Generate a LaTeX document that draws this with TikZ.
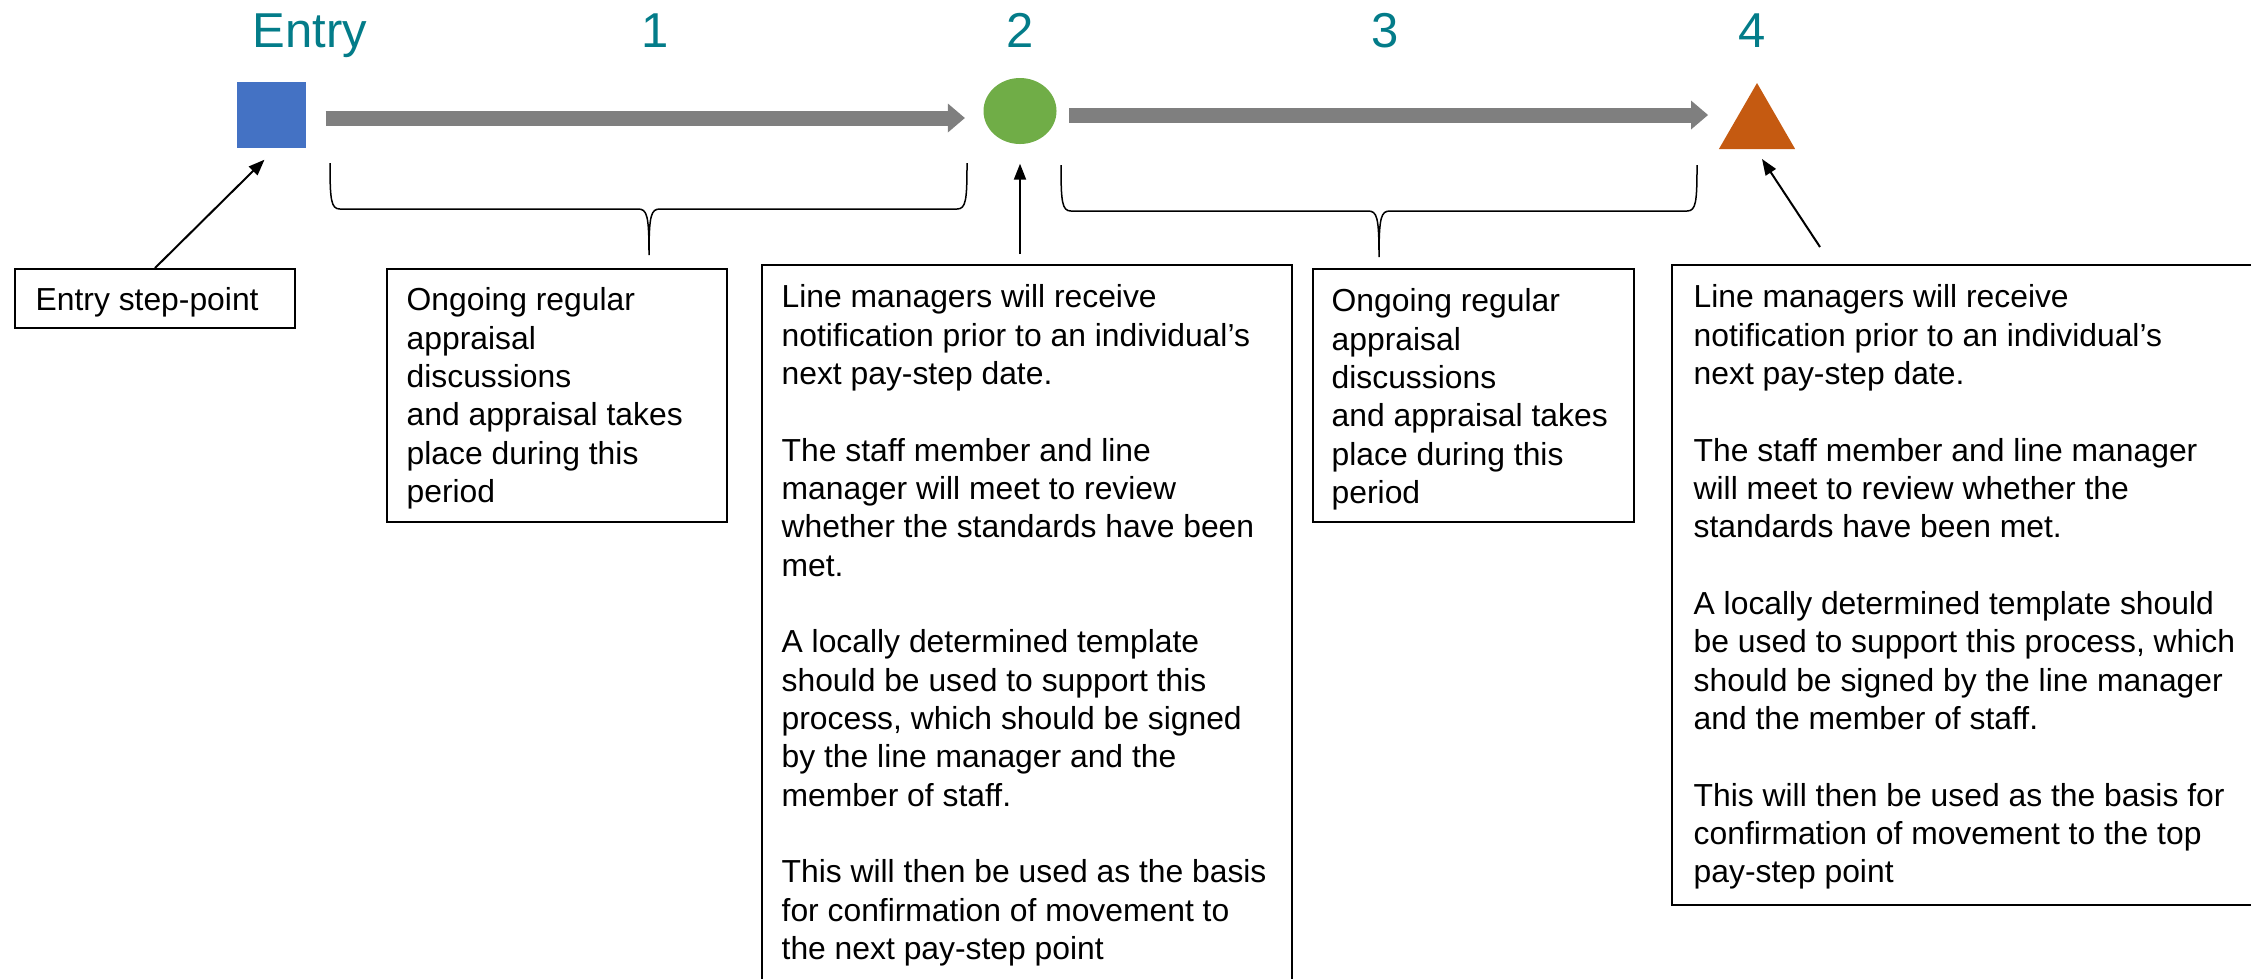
\documentclass[tikz,border=0pt]{standalone}
\usepackage{fontspec}
\setmainfont{Liberation Sans}
\usetikzlibrary{arrows.meta,shapes.geometric,calc}
\definecolor{headc}{HTML}{037C89}
\definecolor{bluec}{HTML}{4472C4}
\definecolor{greenc}{HTML}{70AD47}
\definecolor{orangec}{HTML}{C55A11}
\definecolor{grayc}{HTML}{7F7F7F}
\begin{document}
\begin{tikzpicture}[x=0.3pt,y=-0.3pt,
  head/.style={font=\fontsize{14.7pt}{17pt}\selectfont, text=headc, inner sep=0pt, anchor=base},
  box/.style={draw=black, line width=0.6pt, inner sep=0pt, anchor=north west},
  body/.style={font=\fontsize{9.55pt}{11.5pt}\selectfont, align=left, inner sep=0pt, anchor=north west},
  bigarrow/.style={draw=grayc, line width=4.5pt, -{Triangle[length=5.1pt,width=8.7pt,line width=0pt]}},
  ptr/.style={draw=black, line width=0.6pt, -{Triangle[length=4.8pt,width=3.6pt]}},
  bracestyle/.style={draw=black, line width=0.45pt}
]
\useasboundingbox (0,0) rectangle (2251,978);
\clip (0,0) rectangle (2251,978);

% headings
\node[head] (hE) at (310,47) {Entry};
\node[head] (h1) at (655,47) {1};
\node[head] (h2) at (1020,47) {2};
\node[head] (h3) at (1385,47) {3};
\node[head] (h4) at (1752,47) {4};

% markers
\node[rectangle, fill=bluec, inner sep=0pt, minimum width={69*0.3pt}, minimum height={66*0.3pt}] (sq) at (271.5,115) {};
\node[ellipse, fill=greenc, inner sep=0pt, minimum width={73*0.3pt}, minimum height={66*0.3pt}] (ell) at (1020,111) {};
\node[regular polygon, regular polygon sides=3, fill=orangec, inner sep=0pt, minimum size={88*0.3pt}] (tri) at (1757,127) {};

% big arrows
\draw[bigarrow] ($(sq.east)+(19,3)$) -- ($(sq.east -| ell.west)+(-18,3)$);
\draw[bigarrow] ($(ell.east)+(12,4)$) -- ($(ell.east -| tri.center)+(-49,4)$);

% boxes
\node[box, minimum width={280*0.3pt}, minimum height={59*0.3pt}] (eb) at (14,268) {};
\node[box, minimum width={340*0.3pt}, minimum height={253*0.3pt}] (b1) at (386,268) {};
\node[box, minimum width={530*0.3pt}, minimum height={780*0.3pt}] (b2) at (761,264) {};
\node[box, minimum width={321*0.3pt}, minimum height={253*0.3pt}] (b3) at (1312,268) {};
\node[box, minimum width={640*0.3pt}, minimum height={640*0.3pt}] (b4) at (1671,264) {};

% texts
\node[body] (te) at (35,287) {Entry step-point};
\node[body] (t1) at (406,287) {Ongoing regular\\appraisal\\discussions\\and appraisal takes\\place during this\\period};
\node[body] (t3) at (1331,288) {Ongoing regular\\appraisal\\discussions\\and appraisal takes\\place during this\\period};
\node[body] (t2) at (781,284) {Line managers will receive\\
notification prior to an individual’s\\
next pay-step date.\\[11.5pt]
The staff member and line\\
manager will meet to review\\
whether the standards have been\\
met.\\[11.5pt]
A locally determined template\\
should be used to support this\\
process, which should be signed\\
by the line manager and the\\
member of staff.\\[11.5pt]
This will then be used as the basis\\
for confirmation of movement to\\
the next pay-step point};
\node[body] (t4) at (1693,284) {Line managers will receive\\
notification prior to an individual’s\\
next pay-step date.\\[11.5pt]
The staff member and line manager\\
will meet to review whether the\\
standards have been met.\\[11.5pt]
A locally determined template should\\
be used to support this process, which\\
should be signed by the line manager\\
and the member of staff.\\[11.5pt]
This will then be used as the basis for\\
confirmation of movement to the top\\
pay-step point};

% pointer arrows
\coordinate (p4) at ($(b4.north west)+(149,-17)$);
\draw[ptr] (eb.north) -- ($(sq.south)+(-7,11)$);
\draw[ptr] ($(ell.south |- b2.north)+(0,-10)$) -- ($(ell.south)+(0,19)$);
\draw[ptr] (p4) -- ($(tri.center)+(5,32)$);

% braces
\draw[bracestyle] (330,163) .. controls (330,200) and (331,209) .. (340,209) -- (638,209)
  .. controls (647,209) and (649,215) .. (649,255)
  .. controls (649,215) and (651,209) .. (660,209) -- (957,209)
  .. controls (966,209) and (967,200) .. (967,163);
\draw[bracestyle] (1061,165) .. controls (1061,202) and (1062,211) .. (1071,211) -- (1368,211)
  .. controls (1377,211) and (1379,217) .. (1379,257)
  .. controls (1379,217) and (1381,211) .. (1390,211) -- (1687,211)
  .. controls (1696,211) and (1697,202) .. (1697,165);
\end{tikzpicture}
\end{document}
